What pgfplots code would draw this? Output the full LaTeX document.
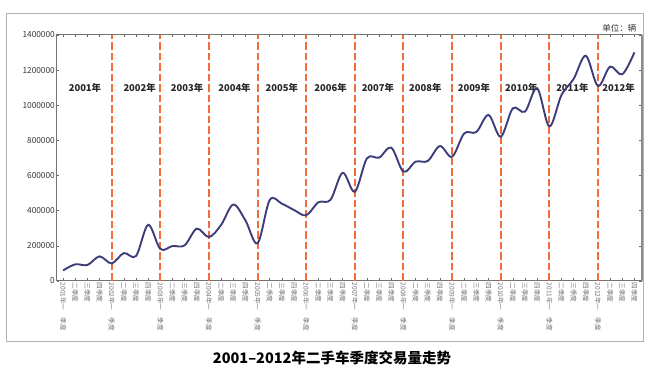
\documentclass[border=0pt]{standalone}
\usepackage{pgfplots}
\pgfplotsset{compat=1.18}
\usepackage{fontspec}
\setmainfont{Noto Sans CJK SC}
\definecolor{curve}{HTML}{3D3D7A}
\definecolor{dashc}{HTML}{F26B3A}
\begin{document}
\begin{tikzpicture}
\begin{axis}[scale only axis,
  width=584.7pt, height=246pt,
  xmin=-0.5, xmax=47.6, ymin=0, ymax=1400000,
  ytick={0,200000,400000,600000,800000,1000000,1200000,1400000},
  scaled y ticks=false,
  /pgf/number format/fixed, /pgf/number format/1000 sep={},
  /pgf/number format/assume math mode=true,
  yticklabel style={font=\fontsize{8.3}{9}\selectfont, text=black!80, inner xsep=2pt},
  xtick={0,...,47},
  xticklabels={
   {2001年一\hspace{1.1em}季度},二季度,三季度,四季度,
   {2002年一\hspace{1.1em}季度},二季度,三季度,四季度,
   {2003年一\hspace{1.1em}季度},二季度,三季度,四季度,
   {2004年一\hspace{1.1em}季度},二季度,三季度,四季度,
   {2005年一\hspace{1.1em}季度},二季度,三季度,四季度,
   {2006年一\hspace{1.1em}季度},二季度,三季度,四季度,
   {2007年一\hspace{1.1em}季度},二季度,三季度,四季度,
   {2008年一\hspace{1.1em}季度},二季度,三季度,四季度,
   {2009年一\hspace{1.1em}季度},二季度,三季度,四季度,
   {2010年一\hspace{1.1em}季度},二季度,三季度,四季度,
   {2011年一\hspace{1.1em}季度},二季度,三季度,四季度,
   {2012年一\hspace{1.1em}季度},二季度,三季度,四季度},
  xticklabel style={rotate=-90, anchor=west, font=\fontsize{6.6}{7}\selectfont, text=black!55, inner xsep=1.5pt},
  tick align=inside, major tick length=2.5pt,
  tick style={black!60, line width=0.6pt},
  axis line style={black!55, line width=1pt},
  extra x ticks={4,8,12,16,20,24,28,32,36,40,44},
  extra x tick labels={},
  extra x tick style={grid=major, major grid style={dashc, line width=2pt, dash pattern=on 7.5pt off 3pt}, major tick length=0pt},
  clip=false,
]
\coordinate (O) at (rel axis cs:0,0);
\begin{scope}[every node/.style={font=\bfseries\fontsize{9.4}{10}\selectfont, text=black!85}]
\node at (axis cs:1.8,1100000) {2001年};
\node at (axis cs:6.3,1100000) {2002年};
\node at (axis cs:10.2,1100000) {2003年};
\node at (axis cs:14.1,1100000) {2004年};
\node at (axis cs:18.0,1100000) {2005年};
\node at (axis cs:22.0,1100000) {2006年};
\node at (axis cs:25.9,1100000) {2007年};
\node at (axis cs:29.8,1100000) {2008年};
\node at (axis cs:33.8,1100000) {2009年};
\node at (axis cs:37.7,1100000) {2010年};
\node at (axis cs:41.9,1100000) {2011年};
\node at (axis cs:45.7,1100000) {2012年};
\end{scope}
\addplot[curve, line width=1.9pt, smooth, tension=0.55] coordinates {
(0,60000) (1,95000) (2,91000) (3,140000)
(4,100000) (5,159000) (6,142000) (7,320000)
(8,182000) (9,199000) (10,203000) (11,298000)
(12,250000) (13,319000) (14,435000) (15,345000)
(16,215000) (17,461000) (18,440000) (19,404000)
(20,374000) (21,448000) (22,462000) (23,616000)
(24,508000) (25,698000) (26,702000) (27,759000)
(28,622000) (29,679000) (30,683000) (31,768000)
(32,707000) (33,840000) (34,848000) (35,945000)
(36,821000) (37,983000) (38,964000) (39,1097000)
(40,880000) (41,1058000) (42,1150000) (43,1282000)
(44,1110000) (45,1220000) (46,1176000) (47,1301000)
};
\draw[black!45, line width=1.8pt] (rel axis cs:1,0) -- (rel axis cs:1,1);
\end{axis}
\begin{scope}[shift={(O)}, x=1pt, y=1pt]
\useasboundingbox (-57,-96) rectangle (593,281);
\draw[gray!60, line width=0.9pt] (-51,-60) rectangle (586,268);
\node[font=\bfseries\fontsize{14.5}{15}\selectfont] at (275,-77) {2001–2012年二手车季度交易量走势};
\node[anchor=east, font=\fontsize{8.5}{9}\selectfont, text=black!80] at (583,253) {单位：辆};
\end{scope}
\end{tikzpicture}
\end{document}
